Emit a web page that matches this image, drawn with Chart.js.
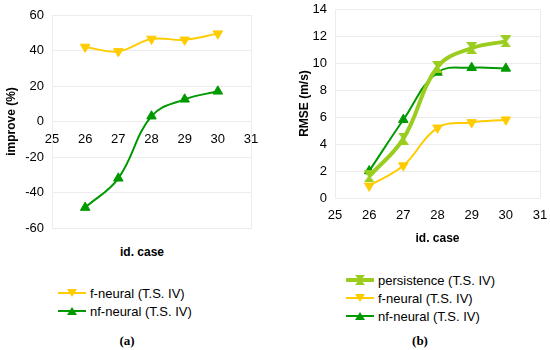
<!DOCTYPE html>
<html>
<head>
<meta charset="utf-8">
<script src="https://cdn.jsdelivr.net/npm/chart.js@4.4.1/dist/chart.umd.min.js"></script>
<style>
  body { margin: 0; width: 550px; height: 350px; background: #fff; position: relative; overflow: hidden;
         font-family: "Liberation Sans", Arial, sans-serif; color: #000; }
  .panel { position: absolute; top: 0; width: 275px; height: 350px; }
  #panelA { left: 0; }
  #panelB { left: 275px; }
  canvas { position: absolute; left: 0; top: 0; }
  .xtitle { position: absolute; font-weight: bold; font-size: 12px; transform: translate(-50%, -50%); white-space: nowrap; }
  .legend { position: absolute; font-size: 13px; }
  .legend .row { height: 18px; display: flex; align-items: center; white-space: nowrap; }
  .legend svg { margin-right: 4px; }
  .caption { position: absolute; font-family: "Liberation Serif", "DejaVu Serif", serif; font-weight: bold;
             font-size: 13px; transform: translate(-50%, -50%); }
</style>
</head>
<body>
<div class="panel" id="panelA">
  <canvas id="chartA" width="275" height="240"></canvas>
  <div class="xtitle" style="left:142px;top:252px">id. case</div>
  <div class="legend" id="legendA" style="left:58px;top:284px"></div>
  <div class="caption" style="left:127px;top:341px">(a)</div>
</div>
<div class="panel" id="panelB">
  <canvas id="chartB" width="275" height="250"></canvas>
  <div class="legend" id="legendB" style="left:71px;top:271px"></div>
  <div class="caption" style="left:145px;top:341px">(b)</div>
</div>
<script>
'use strict';

// id. case on the x axis
const cases = [26, 27, 28, 29, 30];

// (a) improvement in %
const improveFNeural = [42, 39.5, 46.5, 46, 49.5];
const improveNfNeural = [-48.5, -32, 3, 12.5, 17];

// (b) RMSE in m/s
const rmsePersistence = [1.6, 4.4, 9.7, 11.1, 11.6];
const rmseFNeural = [0.9, 2.4, 5.2, 5.6, 5.8];
const rmseNfNeural = [2.0, 5.8, 9.3, 9.65, 9.6];

const seriesNames = ['persistence (T.S. IV)', 'f-neural (T.S. IV)', 'nf-neural (T.S. IV)'];

const colors = {
  persistence: '#9acd1e',
  fNeural: '#ffcc00',
  nfNeural: '#009a00'
};

const gridColor = '#ececec';
const tickFont = { family: '"Liberation Sans", Arial, sans-serif', size: 13 };
const titleFont = { family: '"Liberation Sans", Arial, sans-serif', size: 12, weight: 'bold' };

function toPoints(values) {
  return values.map((v, i) => ({ x: cases[i], y: v }));
}

// hourglass marker for persistence
function hourglass(color, w, h) {
  const c = document.createElement('canvas');
  c.width = w; c.height = h;
  const g = c.getContext('2d');
  g.fillStyle = color;
  g.beginPath();
  g.moveTo(0, 0); g.lineTo(w, 0); g.lineTo(w / 2 + 1, h / 2);
  g.lineTo(w, h); g.lineTo(0, h); g.lineTo(w / 2 - 1, h / 2);
  g.closePath();
  g.fill();
  return c;
}

// light border round the plot area
const plotBorder = {
  id: 'plotBorder',
  beforeDatasetsDraw(chart) {
    const a = chart.chartArea;
    const ctx = chart.ctx;
    ctx.save();
    ctx.strokeStyle = gridColor;
    ctx.lineWidth = 1;
    ctx.strokeRect(Math.round(a.left) + 0.5, Math.round(a.top) + 0.5, Math.round(a.right - a.left), Math.round(a.bottom - a.top));
    ctx.restore();
  }
};

function lineSet(label, values, color, width, style, rotation, radius) {
  return {
    label: label,
    data: toPoints(values),
    borderColor: color,
    backgroundColor: color,
    borderWidth: width,
    pointStyle: style,
    rotation: rotation,
    pointRadius: radius,
    pointBorderWidth: 1,
    tension: 0.4,
    fill: false
  };
}

// the layout padding alone sets the plot area, so drop the label overhang
function xScale(extra) {
  return Object.assign({
    type: 'linear',
    min: 25,
    max: 31,
    ticks: { stepSize: 1, font: tickFont, color: '#000', padding: 10 },
    grid: { display: false, drawTicks: false },
    border: { color: gridColor },
    afterFit(scale) { scale.paddingLeft = 0; scale.paddingRight = 0; }
  }, extra);
}

function yScale(min, max, step, title, width, titlePad) {
  return {
    min: min,
    max: max,
    ticks: { stepSize: step, font: tickFont, color: '#000', padding: 8 },
    grid: { color: gridColor, drawTicks: false },
    border: { color: gridColor },
    title: { display: true, text: title, font: titleFont, color: '#000', padding: { top: titlePad, bottom: 0 } },
    afterFit(scale) {
      scale.width = width;
      scale.paddingTop = 0;
      scale.paddingBottom = 0;
    }
  };
}

const commonOptions = {
  responsive: false,
  animation: false,
  plugins: { legend: { display: false }, tooltip: { enabled: false } }
};

// chart (a)
new Chart(document.getElementById('chartA'), {
  type: 'line',
  data: {
    datasets: [
      lineSet(seriesNames[1], improveFNeural, colors.fNeural, 2, 'triangle', 180, 5.5),
      lineSet(seriesNames[2], improveNfNeural, colors.nfNeural, 2, 'triangle', 0, 5.5)
    ]
  },
  options: Object.assign({}, commonOptions, {
    layout: { padding: { top: 15, right: 24, bottom: 12, left: 0 } },
    scales: {
      x: xScale({ position: { y: 0 } }),
      y: yScale(-60, 60, 20, 'improve (%)', 52, 4)
    }
  }),
  plugins: [plotBorder]
});

// chart (b)
const persistenceMarker = hourglass(colors.persistence, 11, 12);
new Chart(document.getElementById('chartB'), {
  type: 'line',
  data: {
    datasets: [
      lineSet(seriesNames[0], rmsePersistence, colors.persistence, 4, persistenceMarker, 0, 6),
      lineSet(seriesNames[1], rmseFNeural, colors.fNeural, 2, 'triangle', 180, 5.5),
      lineSet(seriesNames[2], rmseNfNeural, colors.nfNeural, 2, 'triangle', 0, 5.5)
    ]
  },
  options: Object.assign({}, commonOptions, {
    layout: { padding: { top: 9, right: 10, bottom: 4, left: 0 } },
    scales: {
      x: xScale({
        title: { display: true, text: 'id. case', font: titleFont, color: '#000', padding: { top: -2, bottom: 0 } }
      }),
      y: yScale(0, 14, 2, 'RMSE (m/s)', 60, 22)
    }
  }),
  plugins: [plotBorder]
});

// legends under the charts
function legendIcon(color, width, marker) {
  let m = '';
  if (marker === 'down') m = `<polygon points="9,3 19,3 14,11" fill="${color}"/>`;
  if (marker === 'up') m = `<polygon points="9,11 19,11 14,3" fill="${color}"/>`;
  if (marker === 'glass') m = `<polygon points="9,2 19,2 15,7 19,12 9,12 13,7" fill="${color}"/>`;
  return `<svg width="28" height="14"><line x1="0" y1="7" x2="28" y2="7" stroke="${color}" stroke-width="${width}"/>${m}</svg>`;
}

function fillLegend(id, items) {
  document.getElementById(id).innerHTML = items.map(it =>
    `<div class="row">${legendIcon(it.color, it.width, it.marker)}<span>${it.label}</span></div>`).join('');
}

fillLegend('legendA', [
  { label: seriesNames[1], color: colors.fNeural, width: 2, marker: 'down' },
  { label: seriesNames[2], color: colors.nfNeural, width: 2, marker: 'up' }
]);
fillLegend('legendB', [
  { label: seriesNames[0], color: colors.persistence, width: 4, marker: 'glass' },
  { label: seriesNames[1], color: colors.fNeural, width: 2, marker: 'down' },
  { label: seriesNames[2], color: colors.nfNeural, width: 2, marker: 'up' }
]);
</script>
</body>
</html>
